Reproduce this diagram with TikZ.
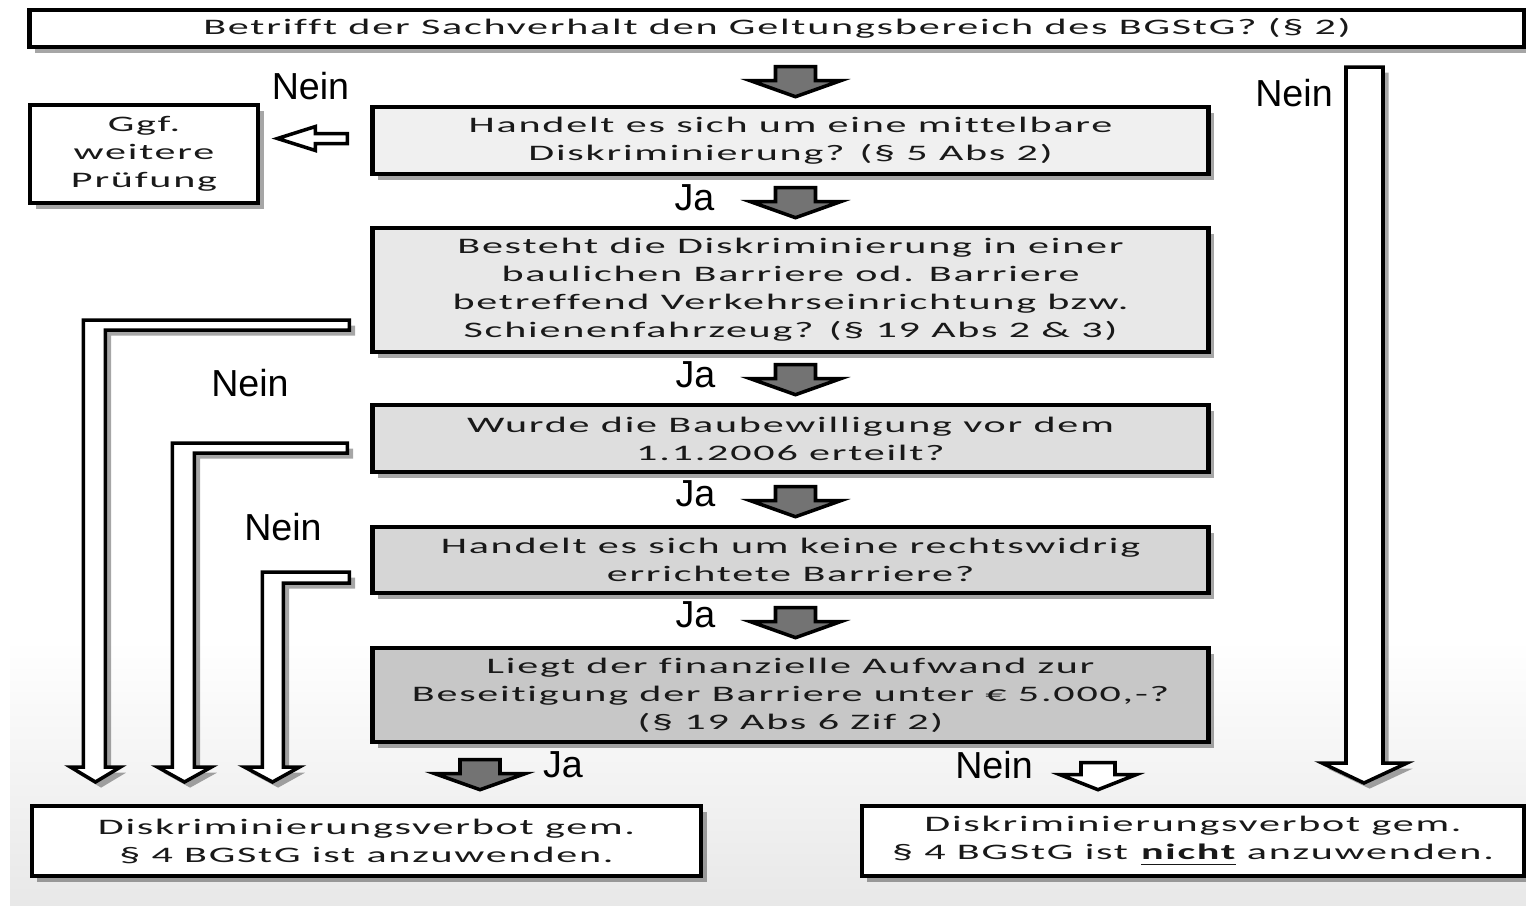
\documentclass[tikz,border=0pt]{standalone}
\usepackage{fontspec}
\setmainfont{Carlito}[FakeStretch=1.9,LetterSpace=8,Ligatures=NoCommon]
\newfontfamily\labelfont{Liberation Sans}
\usetikzlibrary{calc,shadows}

\definecolor{fillQa}{gray}{0.94}
\definecolor{fillQb}{gray}{0.91}
\definecolor{fillQc}{gray}{0.87}
\definecolor{fillQd}{gray}{0.84}
\definecolor{fillQe}{gray}{0.78}
\definecolor{arrowgray}{gray}{0.45}
\definecolor{bggray}{gray}{0.91}

\tikzset{
  boxshadow/.style={drop shadow={shadow xshift=1.6pt, shadow yshift=-1.6pt, opacity=0.35, fill=black}},
  question/.style={draw, line width=1.3pt, align=center, inner sep=0pt, text=black!90,
    font=\fontsize{6.3}{7.97}\selectfont, boxshadow},
  answer/.style={font=\labelfont\fontsize{10.7}{12}\selectfont, inner sep=0pt},
  darkarrow/.style={draw, line width=1pt, fill=arrowgray, boxshadow},
  whitearrow/.style={draw, line width=1pt, fill=white, boxshadow},
  pics/jaarrow/.style={code={
    \draw[pic actions] (-20,-15) -- (20,-15) -- (20,-1) -- (45,-1) -- (0,15) -- (-45,-1) -- (-20,-1) -- cycle;}},
  pics/neinarrow/.style={code={
    \draw[pic actions] (-17,-13) -- (17,-13) -- (17,-1) -- (38,-1) -- (0,14) -- (-38,-1) -- (-17,-1) -- cycle;}},
  pics/backarrow/.style={code={
    \draw[pic actions] (0,-5) -- (-32,-5) -- (-32,-12) -- (-70,0) -- (-32,12) -- (-32,5) -- (0,5) -- cycle;}}
}

\begin{document}
\begin{tikzpicture}[x=0.01cm, y=-0.01cm]
	\useasboundingbox (0,0) rectangle (1526,905);
	\fill[top color=white, bottom color=bggray] (10,640) rectangle (1526,905);

	% questions
	\node[question, fill=white, minimum width=14.94cm, minimum height=0.37cm] (top) at (777,28.5)
		{Betrifft der Sachverhalt den Geltungsbereich des BGStG? (§ 2)};
	\node[question, fill=fillQa, minimum width=8.35cm, minimum height=0.67cm] (q1) at (790.5,140.5)
		{Handelt es sich um eine mittelbare\\Diskriminierung? (§ 5 Abs 2)};
	\node[question, fill=white, minimum width=2.28cm, minimum height=0.98cm] (ggf) at (144,154)
		{Ggf.\\weitere\\Prüfung};
	\node[question, fill=fillQb, minimum width=8.35cm, minimum height=1.24cm] (q2) at (790.5,290)
		{Besteht die Diskriminierung in einer\\baulichen Barriere od. Barriere\\betreffend Verkehrseinrichtung bzw.\\Schienenfahrzeug? (§ 19 Abs 2 \& 3)};
	\node[question, fill=fillQc, minimum width=8.35cm, minimum height=0.67cm] (q3) at (790.5,438.5)
		{Wurde die Baubewilligung vor dem\\1.1.2006 erteilt?};
	\node[question, fill=fillQd, minimum width=8.35cm, minimum height=0.66cm] (q4) at (790.5,560)
		{Handelt es sich um keine rechtswidrig\\errichtete Barriere?};
	\node[question, fill=fillQe, minimum width=8.35cm, minimum height=0.94cm] (q5) at (790.5,695)
		{Liegt der finanzielle Aufwand zur\\Beseitigung der Barriere unter € 5.000,-?\\(§ 19 Abs 6 Zif 2)};

	% results
	\node[question, fill=white, minimum width=6.69cm, minimum height=0.70cm] (resA) at (366.5,841)
		{Diskriminierungsverbot gem.\\§ 4 BGStG ist anzuwenden.};
	\node[question, fill=white, minimum width=6.62cm, minimum height=0.70cm] (resB) at (1193,841)
		{Diskriminierungsverbot gem.\\§ 4 BGStG ist \textbf{\underline{nicht}} anzuwenden.};

	% ja arrows
	\coordinate (j0) at ($(q1.north)+(5,-23)$);
	\coordinate (j1) at ($(q2.north)+(5,-23)$);
	\coordinate (j2) at ($(q3.north)+(5,-23)$);
	\coordinate (j3) at ($(q4.north)+(5,-23)$);
	\coordinate (j4) at ($(q5.north)+(5,-23)$);
	\coordinate (j5) at ($(resA.north)+(113.5,-29)$);
	\foreach \j in {j0,j1,j2,j3,j4,j5}
		\pic[darkarrow] at (\j) {jaarrow};
	\node[answer] (ja1) at ($(j1)+(-101,-5)$) {Ja};
	\node[answer] (ja2) at ($(j2)+(-100,-5)$) {Ja};
	\node[answer] (ja3) at ($(j3)+(-100,-8)$) {Ja};
	\node[answer] (ja4) at ($(j4)+(-100,-8)$) {Ja};
	\node[answer] (ja5) at ($(j5)+(83,-10)$) {Ja};

	% nein arrows
	\coordinate (n0) at ($(q1.west)+(-23,-2)$);
	\pic[whitearrow] at (n0) {backarrow};
	\node[answer] (nein0) at ($(q1.north west)+(-60,-19)$) {Nein};

	\coordinate (n1) at ($(q2.west)+(-21,30)$);
	\coordinate (n2) at ($(q3.west)+(-23,4.5)$);
	\coordinate (n3) at ($(q4.west)+(-21,12)$);
	\draw[whitearrow] (n1) -- ++(-266,0) -- ++(0,447) -- ++(-13,0) -- ++(25,15) -- ++(25,-15)
		-- ++(-15,0) -- ++(0,-437) -- ++(244,0) -- cycle;
	\draw[whitearrow] (n2) -- ++(-175,0) -- ++(0,324) -- ++(-15,0) -- ++(27,15) -- ++(27,-15)
		-- ++(-17,0) -- ++(0,-314) -- ++(153,0) -- cycle;
	\draw[whitearrow] (n3) -- ++(-87,0) -- ++(0,195) -- ++(-18,0) -- ++(28,15) -- ++(27,-15)
		-- ++(-16,0) -- ++(0,-184) -- ++(66,0) -- cycle;
	\node[answer] (nein1) at (250,383) {Nein};
	\node[answer] (nein2) at (283,527) {Nein};

	\coordinate (r0) at (1346,67);
	\draw[whitearrow] (r0) -- ++(37,0) -- ++(0,696) -- ++(24,0) -- ++(-43,20) -- ++(-42,-20)
		-- ++(24,0) -- cycle;
	\node[answer] (nein3) at (1294,93) {Nein};

	\coordinate (n4) at ($(resB.north)+(-95,-28)$);
	\pic[whitearrow] at (n4) {neinarrow};
	\node[answer] (nein4) at ($(n4)+(-104,-11)$) {Nein};
\end{tikzpicture}
\end{document}
